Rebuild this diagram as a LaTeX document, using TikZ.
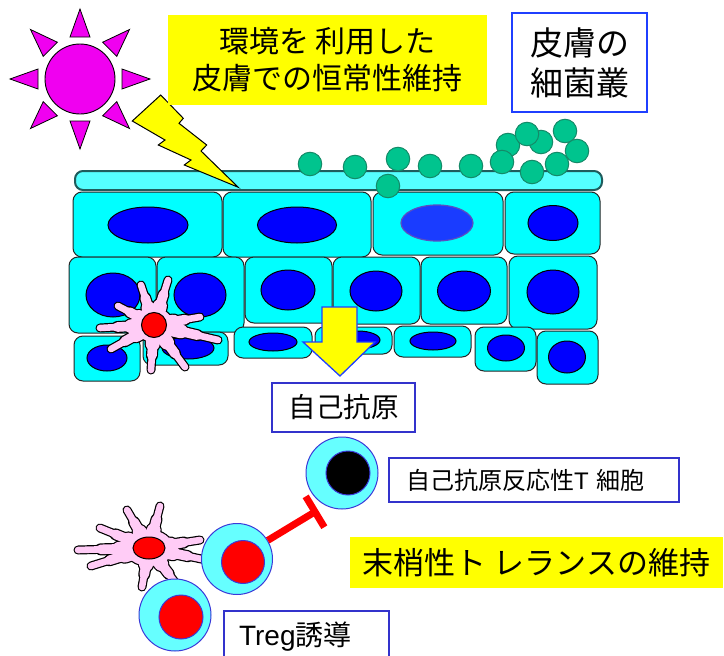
\documentclass[tikz,border=0pt]{standalone}
\usepackage{fontspec}
\setmainfont{Noto Sans CJK JP}
\newfontfamily\latinsf{Liberation Sans}
\usetikzlibrary{arrows.meta,calc}

\definecolor{cellcyan}{HTML}{00FFFF}
\definecolor{hornycyan}{HTML}{55FFFF}
\definecolor{horntline}{HTML}{1F5C5C}
\definecolor{nucblue}{HTML}{0000FF}
\definecolor{nucpale}{HTML}{1A3CFF}
\definecolor{nucpaleline}{HTML}{5A4FC0}
\definecolor{microbe}{HTML}{00C48E}
\definecolor{microbeline}{HTML}{148A68}
\definecolor{sunpink}{HTML}{F000F0}
\definecolor{boltyellow}{HTML}{FFFF00}
\definecolor{dcpink}{HTML}{FFCCF6}
\definecolor{lymphcyan}{HTML}{66FFFF}
\definecolor{lymphline}{HTML}{3A3AD8}
\definecolor{boxblue}{HTML}{3333CC}
\definecolor{brightblue}{HTML}{1F3FFF}

% tapered arms of a dendritic cell, drawn in colour #1 with extra width #2
\newcommand\dendritearms[5]{%
  \foreach \tx/\ty in {#5}{%
    \draw[#1, line width=6.6pt+#2, line cap=round] (#3,#4) -- (\tx,\ty);
    \draw[#1, line width=9.6pt+#2, line cap=round] (#3,#4) -- ($(#3,#4)!0.68!(\tx,\ty)$);
    \draw[#1, line width=14pt+#2, line cap=round] (#3,#4) -- ($(#3,#4)!0.42!(\tx,\ty)$);
  }%
}
% dendritic cell: #1 centre x, #2 centre y, #3 body x radius, #4 body y radius, #5 list of arm tips x/y
\newcommand\dendriticcell[5]{%
  \dendritearms{black}{2.4pt}{#1}{#2}{#5}
  \fill[black] (#1,#2) ellipse [x radius=#3+1.2, y radius=#4+1.2];
  \dendritearms{dcpink}{0pt}{#1}{#2}{#5}
  \fill[dcpink] (#1,#2) ellipse [x radius=#3, y radius=#4];
}

\begin{document}
\begin{tikzpicture}[x=1pt,y=-1pt,
  cellbox/.style={draw=black!85, fill=cellcyan, line width=1pt, rounded corners=9pt},
  nucleus/.style={draw=black, fill=nucblue, line width=1pt},
  hornlayer/.style={draw=horntline, fill=hornycyan, line width=2pt, rounded corners=8pt},
  microbecell/.style={circle, draw=microbeline, fill=microbe, line width=1pt, minimum size=23.5pt, inner sep=0pt},
  sunray/.style={draw=black, fill=sunpink, line width=0.8pt, line join=miter},
  bolt/.style={draw=black, fill=boltyellow, line width=1pt, line join=miter},
  rednuc/.style={draw=black, fill=red, line width=1pt},
  lymph/.style={circle, draw=lymphline, fill=lymphcyan, line width=1pt, inner sep=0pt},
  lymphcore/.style={circle, draw=lymphline, line width=1pt, inner sep=0pt},
  labelbox/.style={draw=boxblue, fill=white, line width=2.2pt, inner sep=0pt},
  yellowbox/.style={fill=boltyellow, inner sep=0pt},
  inhibit/.style={draw=red, line width=7pt, -{Bar[width=36pt]}},
  downarrow/.style={draw=brightblue, fill=boltyellow, line width=1.3pt, line join=miter}
]
\useasboundingbox (0,0) rectangle (724,656);

% ---------- sun ----------
\coordinate (sunc) at (80,79);
\foreach \a in {0,45,...,315}{
  \draw[sunray] ($(sunc)+(\a:70)$) -- ($(sunc)+(\a:42)+(\a+90:10)$) -- ($(sunc)+(\a:42)+(\a-90:10)$) -- cycle;
}
\node[circle, draw=black, fill=sunpink, line width=0.9pt, minimum size=70pt, inner sep=0pt] (sun) at (sunc) {};

% ---------- epidermis ----------
% stratum corneum
\draw[hornlayer] (75,171) rectangle (602,190);

% keratinocytes: box corners / nucleus centre and radii
\foreach \xa/\ya/\xb/\yb/\cx/\cy/\rx/\ry in {
    73/192/222/257/148/225/40/18,
    223/192/371/257/297/225/39.5/18,
    505/192/600/254/553/223/25/17.5,
    69/257/156/333/113/295/27/22,
    157/257/244/332/200/295/26/22,
    245/257/332/323/288/290/27/20,
    333/257/420/324/376/291/26/20,
    421/257/507/324/464/291/26.5/20,
    509/256/597/329/553/292/26/22,
    74/336/140/381/107/358/20/13,
    143/332/228/365/188/348/26/11,
    234/327/312/358/273/342/24/9,
    315/327/392/354/358/340/22/9,
    394/326/471/357/433/341/23/9,
    475/327/536/371/506/348/18.5/13,
    537/331/598/384/567/357/18.5/16}{
  \draw[cellbox] (\xa,\ya) rectangle (\xb,\yb);
  \draw[nucleus] (\cx,\cy) ellipse [x radius=\rx, y radius=\ry];
}
\draw[cellbox] (373,192) rectangle (503,255);
\draw[draw=nucpaleline, fill=nucpale, line width=1.2pt] (437,223) ellipse [x radius=36, y radius=18];

% UV bolt
\draw[bolt] (132.3,121) -- (160.7,95) -- (183.3,118.3) -- (179,123.3) -- (206.7,145)
  -- (201,151) -- (238.3,187.3) -- (184.3,165) -- (191,160) -- (158.3,145) -- (165,140) -- cycle;

% commensal bacteria
\foreach \bx/\by [count=\i] in {310/164, 355/167, 398/159, 388/186, 430/166, 471/166,
    508/145, 541/142, 527/134, 502/162, 565/131, 577/151, 557/164, 532/172}{
  \node[microbecell] (bact\i) at (\bx,\by) {};
}

% dendritic cell inside the epidermis
\dendriticcell{154}{325}{19}{17}{168/280, 200/317, 218/340, 185/367, 151/370, 111/349, 100/328, 118/306, 141/285}
\node[circle, rednuc, minimum size=25pt, inner sep=0pt] (dcnucA) at (154,325) {};

% antigen transport arrow
\draw[downarrow] (322,307) -- (357,307) -- (357,342) -- (375,342) -- (340,376)
  -- (303,342) -- (322,342) -- cycle;

% ---------- labels ----------
\node[yellowbox, minimum width=319pt, minimum height=90pt, align=center,
      font=\fontsize{30}{37}\selectfont] (headline) at (327.5,60)
      {環境を 利用した\\皮膚での恒常性維持};
\node[draw=brightblue, line width=1.3pt, minimum width=135pt, minimum height=99pt,
      inner sep=0pt, align=center, font=\fontsize{33}{40}\selectfont] (flora) at (579.5,62.5)
      {皮膚の\\細菌叢};
\node[labelbox, minimum width=143pt, minimum height=49pt, font=\fontsize{27.5}{32}\selectfont]
      (selfag) at (343.5,407.5) {自己抗原};

% ---------- periphery ----------
% dendritic cell in the lymphoid tissue
\dendriticcell{149}{548}{24}{18}{160/506, 200/540, 206/560, 178/586, 142/587, 91/566, 78/550, 100/528, 127/510}
\draw[rednuc] (149,548) ellipse [x radius=16, y radius=11];

% autoreactive T cell
\node[lymph, minimum size=72pt] (tcell) at (342,473) {};
\node[lymphcore, fill=black, minimum size=44pt] (tcore) at (348,473) {};
% regulatory T cells
\node[lymph, minimum size=71pt] (treg1) at (237,559) {};
\node[lymphcore, fill=red, minimum size=43pt] (treg1core) at (243,562) {};
\node[lymph, minimum size=72pt] (treg2) at (175,615) {};
\node[lymphcore, fill=red, minimum size=44pt] (treg2core) at (181,617) {};

% suppression
\coordinate (blockend) at (318,510);
\draw[inhibit] (treg1) -- (blockend);

\node[labelbox, anchor=west, minimum height=44pt, text width=256pt, inner xsep=17pt, align=left,
      font=\fontsize{24}{28}\selectfont] (tcellbox) at (388,480)
      {自己抗原反応性{\latinsf T} 細胞};
\node[yellowbox, minimum width=373pt, minimum height=51pt, font=\fontsize{31}{36}\selectfont]
      (tolerance) at (536.5,562.5) {末梢性ト レランスの維持};
\node[labelbox, anchor=north west, minimum height=52pt, text width=135pt, inner xsep=15pt,
      align=left, font=\fontsize{28}{32}\selectfont] (tregbox) at (223,610)
      {{\latinsf Treg}誘導};
\end{tikzpicture}
\end{document}
